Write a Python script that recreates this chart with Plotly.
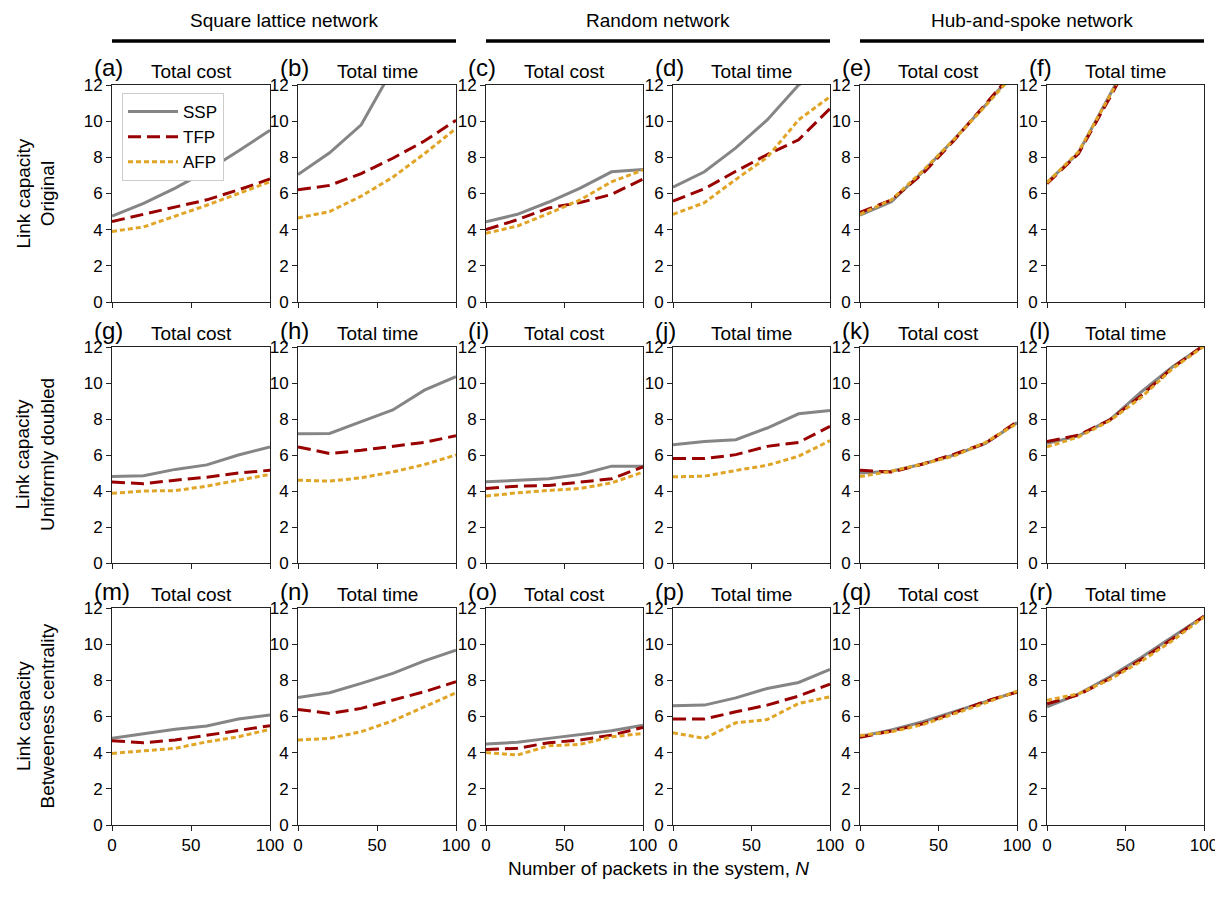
import plotly.graph_objects as go

N = [0, 20, 40, 60, 80, 100]
methods = ["SSP", "TFP", "AFP"]
panel_letters = list("abcdefghijklmnopqr")
panel_titles = ["Total cost", "Total time"] * 9
network_names = ["Square lattice network", "Random network", "Hub-and-spoke network"]
row_labels = ["Link capacity<br>Original", "Link capacity<br>Uniformly doubled", "Link capacity<br>Betweeness centrality"]
y_ticks = [0, 2, 4, 6, 8, 10, 12]
x_ticks = [0, 50, 100]

# Row 1: original capacity
ssp_a = [4.75, 5.45, 6.3, 7.25, 8.35, 9.5]
tfp_a = [4.45, 4.85, 5.25, 5.65, 6.2, 6.8]
afp_a = [3.9, 4.15, 4.75, 5.35, 6.0, 6.65]
ssp_b = [7.05, 8.25, 9.8, 12.9, 15.5, 18.0]
tfp_b = [6.2, 6.45, 7.1, 7.95, 8.9, 10.05]
afp_b = [4.65, 5.0, 5.85, 6.9, 8.2, 9.6]
ssp_c = [4.43, 4.85, 5.53, 6.3, 7.2, 7.33]
tfp_c = [4.0, 4.55, 5.2, 5.5, 5.95, 6.8]
afp_c = [3.8, 4.2, 4.9, 5.65, 6.65, 7.3]
ssp_d = [6.35, 7.2, 8.52, 10.07, 12.0, 13.0]
tfp_d = [5.58, 6.26, 7.23, 8.15, 8.97, 10.7]
afp_d = [4.85, 5.49, 6.78, 8.0, 10.07, 11.35]
ssp_e = [4.8, 5.55, 7.2, 9.0, 10.9, 12.9]
tfp_e = [4.95, 5.65, 7.1, 8.95, 10.95, 12.95]
afp_e = [4.85, 5.65, 7.25, 9.0, 10.85, 12.8]
ssp_f = [6.6, 8.25, 11.45, 14.8, 18.0, 21.0]
tfp_f = [6.55, 8.2, 11.3, 14.7, 17.9, 20.9]
afp_f = [6.6, 8.3, 11.4, 14.8, 18.0, 21.0]
# Row 2: uniformly doubled capacity
ssp_g = [4.8, 4.85, 5.2, 5.45, 6.0, 6.45]
tfp_g = [4.5, 4.4, 4.6, 4.77, 5.0, 5.15]
afp_g = [3.87, 4.0, 4.02, 4.27, 4.6, 4.92]
ssp_h = [7.18, 7.2, 7.85, 8.5, 9.6, 10.35]
tfp_h = [6.45, 6.08, 6.26, 6.48, 6.7, 7.07]
afp_h = [4.6, 4.55, 4.73, 5.06, 5.47, 6.0]
ssp_i = [4.51, 4.6, 4.68, 4.92, 5.38, 5.38]
tfp_i = [4.14, 4.27, 4.31, 4.5, 4.68, 5.34]
afp_i = [3.72, 3.9, 4.03, 4.14, 4.45, 5.05]
ssp_j = [6.57, 6.75, 6.85, 7.5, 8.29, 8.47]
tfp_j = [5.8, 5.8, 6.02, 6.48, 6.7, 7.59]
afp_j = [4.79, 4.82, 5.14, 5.43, 5.93, 6.8]
ssp_k = [5.0, 5.1, 5.5, 6.0, 6.65, 7.8]
tfp_k = [5.15, 5.05, 5.5, 6.05, 6.65, 7.85]
afp_k = [4.8, 5.1, 5.5, 5.95, 6.7, 7.75]
ssp_l = [6.65, 7.06, 7.95, 9.5, 10.9, 12.1]
tfp_l = [6.75, 7.1, 7.95, 9.3, 10.85, 12.1]
afp_l = [6.45, 7.0, 7.9, 9.2, 10.8, 12.05]
# Row 3: betweenness-centrality capacity
ssp_m = [4.79, 5.03, 5.29, 5.47, 5.86, 6.08]
tfp_m = [4.66, 4.55, 4.7, 4.97, 5.21, 5.49]
afp_m = [3.96, 4.09, 4.24, 4.6, 4.88, 5.29]
ssp_n = [7.05, 7.31, 7.83, 8.38, 9.08, 9.67]
tfp_n = [6.39, 6.17, 6.45, 6.91, 7.37, 7.92]
afp_n = [4.7, 4.79, 5.16, 5.76, 6.54, 7.31]
ssp_o = [4.48, 4.57, 4.79, 5.0, 5.21, 5.52]
tfp_o = [4.18, 4.24, 4.55, 4.7, 4.97, 5.4]
afp_o = [4.01, 3.87, 4.38, 4.46, 4.88, 5.06]
ssp_p = [6.59, 6.63, 7.03, 7.55, 7.88, 8.6]
tfp_p = [5.86, 5.86, 6.26, 6.63, 7.13, 7.79]
afp_p = [5.1, 4.79, 5.65, 5.83, 6.72, 7.09]
ssp_q = [4.89, 5.25, 5.71, 6.26, 6.81, 7.37]
tfp_q = [4.85, 5.2, 5.6, 6.2, 6.85, 7.35]
afp_q = [4.95, 5.15, 5.55, 6.15, 6.75, 7.4]
ssp_r = [6.54, 7.24, 8.2, 9.26, 10.41, 11.55]
tfp_r = [6.7, 7.2, 8.1, 9.15, 10.3, 11.55]
afp_r = [6.9, 7.25, 8.05, 9.05, 10.2, 11.5]

panel_data = [
    (ssp_a, tfp_a, afp_a), (ssp_b, tfp_b, afp_b), (ssp_c, tfp_c, afp_c),
    (ssp_d, tfp_d, afp_d), (ssp_e, tfp_e, afp_e), (ssp_f, tfp_f, afp_f),
    (ssp_g, tfp_g, afp_g), (ssp_h, tfp_h, afp_h), (ssp_i, tfp_i, afp_i),
    (ssp_j, tfp_j, afp_j), (ssp_k, tfp_k, afp_k), (ssp_l, tfp_l, afp_l),
    (ssp_m, tfp_m, afp_m), (ssp_n, tfp_n, afp_n), (ssp_o, tfp_o, afp_o),
    (ssp_p, tfp_p, afp_p), (ssp_q, tfp_q, afp_q), (ssp_r, tfp_r, afp_r),
]

# The page body has an 8px margin, so the figure starts at (8, 8) on the page
OFF = 8
W, H = 1223 - OFF, 908 - 2 * OFF


def px(v):
    return (v - OFF) / W


def py(v):
    return 1 - (v - OFF) / H


col_px = [(112, 270), (298, 456), (486, 643), (673, 830), (860, 1017), (1047, 1204)]
row_px = [(85, 302), (347, 563), (608, 825)]
styles = {
    "SSP": dict(color="#858585", dash="solid"),
    "TFP": dict(color="#990000", dash="13px,6px"),
    "AFP": dict(color="#E0A526", dash="5px,3px"),
}
FONT = "Liberation Sans, Arial, sans-serif"

fig = go.Figure()
layout = {}
annotations = []
for idx in range(18):
    r, c = divmod(idx, 6)
    n = idx + 1
    xa = "xaxis" if n == 1 else f"xaxis{n}"
    ya = "yaxis" if n == 1 else f"yaxis{n}"
    xref = "x" if n == 1 else f"x{n}"
    yref = "y" if n == 1 else f"y{n}"
    x0, x1 = col_px[c]
    y0, y1 = row_px[r]
    common = dict(showgrid=False, zeroline=False, showline=True, linecolor="#222",
                  linewidth=1, mirror=True, ticks="outside", ticklen=5, tickcolor="#222",
                  automargin=False,
                  tickfont=dict(size=17, color="black", family=FONT))
    layout[xa] = dict(domain=[px(x0), px(x1)], range=[0, 100], anchor=yref,
                      tickvals=x_ticks, showticklabels=(r == 2), ticklabeloverflow="allow", **common)
    layout[ya] = dict(domain=[py(y1), py(y0)], range=[0, 12], anchor=xref,
                      tickvals=y_ticks, **common)
    for m, vals in zip(methods, panel_data[idx]):
        fig.add_trace(go.Scatter(x=N, y=vals, mode="lines", name=m,
                                 line=dict(width=3, **styles[m]),
                                 xaxis=xref, yaxis=yref, showlegend=(idx == 0)))
    annotations.append(dict(text=f"({panel_letters[idx]})", x=px(x0 - 20), y=py(y0 - 17),
                            xref="paper", yref="paper", xanchor="left", yanchor="middle",
                            showarrow=False, font=dict(size=24, family=FONT, color="black")))
    annotations.append(dict(text=panel_titles[idx], x=px((x0 + x1) / 2), y=py(y0 - 14),
                            xref="paper", yref="paper", xanchor="center", yanchor="middle",
                            showarrow=False, font=dict(size=19, family=FONT, color="black")))

shapes = []
for k, name in enumerate(network_names):
    xa0 = col_px[2 * k][0]
    xa1 = col_px[2 * k + 1][1]
    annotations.append(dict(text=name, x=px((xa0 + xa1) / 2), y=py(20), xref="paper", yref="paper",
                            xanchor="center", yanchor="middle", showarrow=False,
                            font=dict(size=19, family=FONT, color="black")))
    shapes.append(dict(type="line", xref="paper", yref="paper", x0=px(xa0), x1=px(xa1),
                       y0=py(41), y1=py(41), line=dict(color="black", width=3.5)))

for r, lab in enumerate(row_labels):
    y0, y1 = row_px[r]
    annotations.append(dict(text=lab, x=px(35), y=py((y0 + y1) / 2), xref="paper", yref="paper",
                            xanchor="center", yanchor="middle", textangle=-90, showarrow=False,
                            font=dict(size=19, family=FONT, color="black")))

annotations.append(dict(text="Number of packets in the system, <i>N</i>", x=px(658), y=py(868),
                        xref="paper", yref="paper", xanchor="center", yanchor="middle",
                        showarrow=False, font=dict(size=19, family=FONT, color="black")))

fig.update_layout(
    width=W, height=H,
    margin=dict(l=0, r=0, t=0, b=0, autoexpand=False),
    paper_bgcolor="white", plot_bgcolor="white",
    annotations=annotations, shapes=shapes,
    legend=dict(x=px(122), y=py(93), xanchor="left", yanchor="top",
                bgcolor="white", bordercolor="#cccccc", borderwidth=1,
                font=dict(size=17, family=FONT, color="black"),
                itemwidth=50, tracegroupgap=4),
    **layout,
)

fig.write_html("out.html")
